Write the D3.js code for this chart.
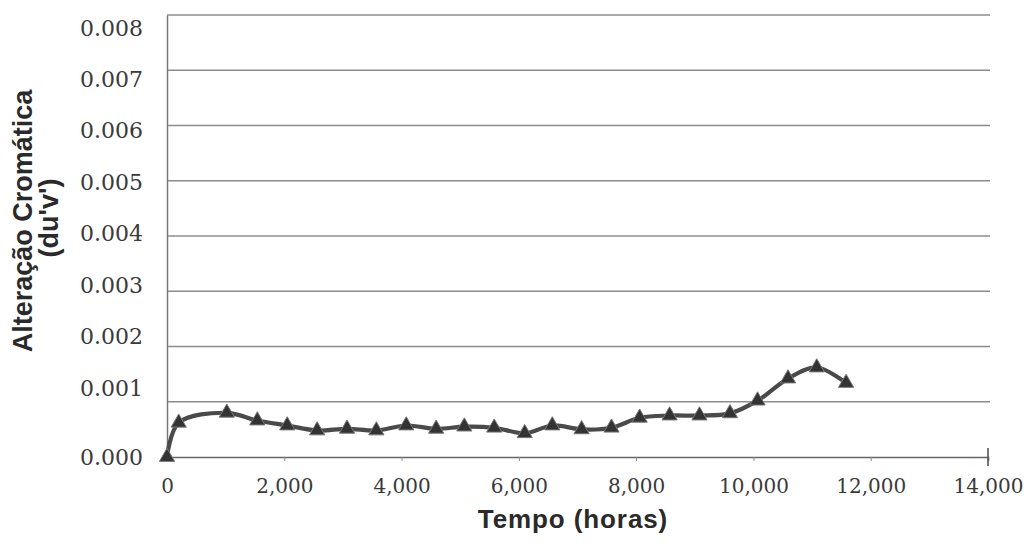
<!DOCTYPE html>
<html><head><meta charset="utf-8">
<script src="https://cdn.jsdelivr.net/npm/d3@7"></script>
<style>body{margin:0;background:#fff}</style>
</head><body>
<svg id="c" width="1028" height="550"></svg>
<script>
const hours = [0, 200, 1020, 1540, 2050, 2560, 3070, 3570, 4080, 4590, 5070, 5580, 6100, 6570, 7070, 7580, 8060, 8570, 9080, 9600, 10070, 10590, 11080, 11580];
const duv = [0.0, 0.00062, 0.0008, 0.00066, 0.00057, 0.00048, 0.00051, 0.00048, 0.00057, 0.00051, 0.00055, 0.00053, 0.00043, 0.00057, 0.0005, 0.00053, 0.00071, 0.00075, 0.00075, 0.00079, 0.00102, 0.00142, 0.00162, 0.00134];
const xTicks = [0, 2000, 4000, 6000, 8000, 10000, 12000, 14000];
const yTicks = [0, 0.001, 0.002, 0.003, 0.004, 0.005, 0.006, 0.007, 0.008];
const xTitle = "Tempo (horas)";
const yTitle1 = "Alteração Cromática";
const yTitle2 = "(du'v')";

const svg = d3.select("#c");
const x = d3.scaleLinear().domain([0, 14000]).range([167, 988]);
const y = d3.scaleLinear().domain([0, 0.008]).range([457, 15]);
// tick-label placement as printed in the (scanned) original
const yLab = d3.scaleLinear().domain([0, 0.001, 0.008]).range([457, 388, 28]);
const fmtX = d3.format(",");
const fmtY = d3.format(".3f");
const serif = "DejaVu Serif, serif";
const sans = "Liberation Sans, Arial, sans-serif";

// gridlines
svg.append("g").selectAll("line").data(yTicks.filter(d => d > 0)).join("line")
  .attr("x1", x(0)).attr("x2", x(14000) + 2).attr("y1", d => y(d)).attr("y2", d => y(d))
  .attr("stroke", "#8c8c8c").attr("stroke-width", 1.4);

// x axis
const xa = svg.append("g").attr("transform", `translate(0,${y(0)})`)
  .call(d3.axisBottom(x).tickValues(xTicks).tickFormat(fmtX).tickSize(4));
xa.select(".domain").attr("stroke", "#666").attr("stroke-width", 1.6);
xa.selectAll(".tick line").attr("stroke", "#888");
xa.selectAll("text").attr("font-family", serif).attr("font-size", 20).attr("fill", "#3a3a3a")
  .attr("y", 36).attr("dy", "0");
svg.append("line").attr("x1", x(14000)).attr("x2", x(14000)).attr("y1", y(0) - 9).attr("y2", y(0) + 9)
  .attr("stroke", "#555").attr("stroke-width", 1.6);

// y axis
const ya = svg.append("g").attr("transform", `translate(${x(0)},0)`)
  .call(d3.axisLeft(y).tickValues(yTicks).tickFormat(fmtY).tickSize(0).tickPadding(24));
ya.select(".domain").attr("stroke", "#777").attr("stroke-width", 1.5);
ya.selectAll("text").attr("font-family", serif).attr("font-size", 22).attr("fill", "#3a3a3a")
  .attr("y", d => yLab(d) - y(d));

// line
const pts = hours.map((h, i) => [h, duv[i]]);
svg.append("path").datum(pts)
  .attr("d", d3.line().x(d => x(d[0])).y(d => y(d[1])).curve(d3.curveCatmullRom))
  .attr("fill", "none").attr("stroke", "#4a4a4a").attr("stroke-width", 4.2);

// triangle markers
const tri = d3.symbol().type(d3.symbolTriangle).size(100);
svg.append("g").selectAll("path").data(pts).join("path")
  .attr("d", tri).attr("transform", d => `translate(${x(d[0])},${y(d[1])})`)
  .attr("fill", "#333").attr("stroke", "#777").attr("stroke-width", 1);

// titles
svg.append("text").attr("x", 573).attr("y", 528).attr("text-anchor", "middle")
  .attr("font-family", sans).attr("font-weight", "bold").attr("letter-spacing", 0.9)
  .attr("font-size", 26).attr("fill", "#2a2a2a").text(xTitle);
svg.append("text").attr("transform", "translate(32,221) rotate(-90)").attr("text-anchor", "middle")
  .attr("font-family", sans).attr("font-weight", "bold")
  .attr("font-size", 27).attr("fill", "#2a2a2a").text(yTitle1);
svg.append("text").attr("transform", "translate(58,218) rotate(-90)").attr("text-anchor", "middle")
  .attr("font-family", sans).attr("font-weight", "bold")
  .attr("font-size", 27).attr("fill", "#2a2a2a").text(yTitle2);
</script>
</body></html>
